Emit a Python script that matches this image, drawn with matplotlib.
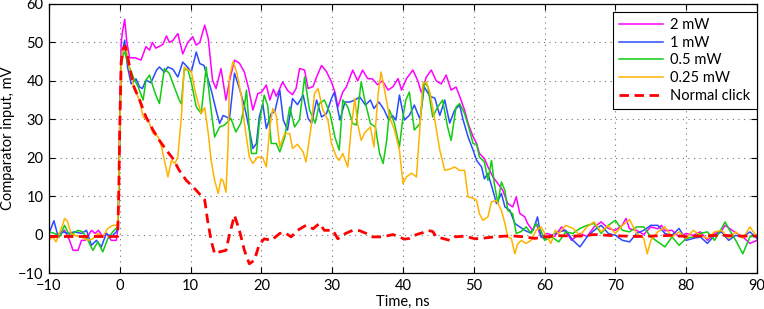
"""Comparator input vs time for several optical powers"""
import matplotlib
matplotlib.use("Agg")
import matplotlib.pyplot as plt

# Datos (tiempo en ns, tension en mV)
t_2mw = [-10, -9.2, -8.5, -7.8, -7.1, -6.6, -5.9, -5.4, -4.9, -4.0, -3.5, -3.0,
         -2.4, -1.9, -1.2, -0.5, -0.3, -0.15, 0.0, 0.2, 0.4, 0.7, 1.0, 1.4,
         2.2, 3.0, 3.7, 4.2, 4.6, 5.1, 5.6, 6.1, 6.6, 7.0, 7.5, 8.2, 8.9, 9.6,
         10.3, 10.8, 11.3, 12.0, 12.5, 13.1, 13.6, 14.3, 15.0, 15.5, 16.2,
         16.9, 17.6, 18.2, 18.8, 19.5, 20.0, 20.7, 21.2, 21.7, 22.1, 22.6,
         23.0, 23.7, 24.4, 24.9, 25.4, 26.1, 26.6, 27.3, 27.8, 28.5, 29.2,
         29.9, 30.4, 30.8, 31.5, 32.0, 32.9, 33.6, 34.3, 35.0, 35.7, 36.4,
         37.1, 37.9, 38.6, 39.3, 39.8, 40.5, 41.4, 42.1, 42.6, 43.3, 44.0,
         44.7, 45.4, 46.1, 46.8, 47.5, 48.2, 48.7, 49.2, 49.9, 50.4, 50.8,
         51.5, 52.0, 52.7, 53.4, 54.1, 54.8, 55.5, 56.0, 56.5, 57.2, 57.6,
         58.3, 58.8, 59.5, 60.4, 61.4, 62.4, 63.3, 63.8, 65, 66, 67, 68, 69,
         70, 71, 71.5, 72, 73, 74, 75, 76, 76.5, 77, 78, 79, 80, 81, 82, 83,
         84, 85, 85.5, 86.5, 87, 88, 89, 90]
v_2mw = [-0.6, -0.6, 0.3, 1.1, -1.5, -4.1, -4.1, -1.5, -1.5, 1.1, 0.3, 1.1,
         -0.6, 0.3, -1.5, -1.5, 1.0, 10, 30, 50, 53, 56, 50, 46,
         46, 45.4, 48.9, 48, 50, 48.5, 49, 49.5, 51.7, 50, 50.5, 52.3, 47, 50,
         51.5, 49.3, 50, 54.5, 51, 40.2, 38, 43.2, 35, 40, 45.4,
         44.6, 42.3, 38, 32.4, 36.7, 37, 38.9, 35, 37.8, 36, 38,
         39.7, 37.5, 36.4, 38, 43.2, 42.8, 38, 38.5, 41, 44, 42.4,
         39.7, 37, 33.2, 37.1, 38.4, 42.8, 40, 42.8, 40.6, 40.5, 39,
         40, 37.6, 38.5, 40.6, 37.6, 40.6, 42.8, 40, 36.9, 41, 42.8,
         40, 39.2, 41.5, 37.6, 38.4, 35, 32.4, 28.9, 25.5, 23.7, 21.1,
         19.8, 17.6, 15, 13.3, 11.5, 8.1, 7.2, 9.8, 5.5, 4.6, 2.9,
         1.1, 2.9, -0.6, 0.3, -0.5, 2, 0, -1.5, 0.3, -0.5, 2, 3.3, 1.6,
         1.1, 2.5, 4.2, 1.5, 1.1, 0, 2, 1.5, 2.4, 1, 1.1, -0.6, 0.3, -0.2, 0.7, -1.5,
         0.3, 1, 2.4, 1.1, 0.5, -0.6, -2.3, -1.5]

t_1mw = [-10, -9.3, -8.7, -8.0, -7.3, -6.4, -5.4, -4.7, -4.0, -3.3, -2.6, -1.9,
         -1.2, -0.5, -0.3, -0.15, 0.0, 0.2, 0.5, 0.7, 1.1, 1.6, 2.3, 2.8, 3.2,
         3.7, 4.4, 5.2, 5.6, 6.3, 6.8, 7.5, 8.2, 8.9, 9.6, 10.1, 10.8, 11.3,
         11.9, 12.5, 13.0, 13.6, 14.1, 14.6, 15.5, 16.2, 16.9, 17.6, 18.3,
         18.8, 19.3, 19.7, 20.2, 20.7, 21.4, 21.9, 22.6, 23.1, 23.7, 24.4,
         25.1, 25.9, 26.6, 27.1, 27.8, 28.5, 29.2, 29.9, 30.3, 31.1, 31.8,
         32.5, 33.2, 33.9, 34.7, 35.4, 35.9, 36.6, 37.3, 38.0, 38.5, 39.0,
         39.5, 40.2, 40.9, 41.6, 42.4, 43.0, 43.8, 44.5, 45.2, 45.9, 46.6,
         47.3, 48.0, 48.5, 49.2, 49.9, 50.4, 51.1, 51.5, 52.0, 52.7, 53.2,
         53.9, 54.4, 55.1, 55.8, 56.5, 57.2, 57.9, 58.4, 59.0, 59.5, 60, 61,
         62, 63, 64, 65, 66, 67, 68, 69, 70, 71, 72, 73, 74, 75, 76, 77, 78,
         79, 80, 81, 82, 83, 84, 85, 86, 87, 88, 89, 90]
v_1mw = [0.3, 3.6, -0.6, 0.7, 0.3, 0.7, 0.3, 1.1, -2.8, -1.5, -3.2, 0.3,
         -0.6, 0.7, 1.5, 10, 28, 45, 49, 50.6, 43.6, 39.2, 40.5, 38.4, 38,
         40.2, 39.5, 42.8, 43.6, 42.3, 43.6, 43, 41, 44.9, 43.5, 42.3, 47.5, 44.5,
         44, 40.2, 37, 32.4, 28.9, 31, 30.2, 42, 38, 33.5, 27.4,
         22.4, 23.7, 30.6, 34, 27.6, 31.5, 32, 37.6, 29.8, 27.2, 35.4,
         33.8, 36.3, 30.2, 29, 35, 30.6, 31.5, 35.4, 37, 29.8, 34.5,
         34.5, 35, 35.8, 33.7, 35, 32.8, 34.5, 32.6, 29.8, 31, 29.8,
         36.3, 29.8, 31, 33.7, 30, 38.4, 36, 35.5, 31, 35, 29,
         32.4, 33.7, 29.8, 25.4, 22, 19.3, 17.6, 14.5, 15.9, 11.5, 8.1,
         10.7, 7.2, 6.3, 2.9, 2, 1.1, 0.5, 1.2, 4.6, -0.6, -1, -0.2,
         0.7, 1.1, -1.5, -3.2, -0.6, 1.1, 2.4, 0.3, -0.2, -1.5, -1.9, 0.3, 1.1, 2.4, 2.4, 0.3, -0.2,
         1.6, -1.5, -1, -0.6, -2.3, -0.2, 0.7, -1.5, -0.2, -0.6, 0.7, -1]

t_05mw = [-10, -9.2, -8.5, -7.8, -7.1, -5.9, -5.2, -4.5, -3.8, -3.1, -2.4, -1.7,
          -1.0, -0.5, -0.3, -0.15, 0.0, 0.2, 0.5, 0.7, 1.1, 1.9, 2.6, 3.3, 3.7,
          4.2, 4.7, 5.2, 5.6, 6.3, 7.0, 7.7, 8.4, 8.7, 9.1, 9.6, 10.1, 10.8,
          11.5, 12.2, 12.9, 13.4, 14.1, 14.8, 15.7, 16.4, 17.1, 17.6, 17.9,
          18.3, 18.6, 19.3, 19.7, 20.4, 20.9, 21.4, 22.1, 22.6, 23.3, 24.0,
          24.7, 25.4, 26.1, 26.8, 27.6, 28.2, 28.9, 29.7, 30.4, 31.0, 31.5,
          32.2, 32.9, 33.4, 33.9, 34.1, 34.6, 35.4, 36.1, 36.7, 37.2, 37.7,
          38.1, 38.8, 39.5, 40.0, 40.4, 40.9, 41.6, 42.4, 43.0, 43.5, 44.2,
          44.9, 45.6, 46.3, 46.8, 47.5, 48.0, 48.7, 49.4, 49.9, 50.4, 50.8,
          51.5, 52.0, 52.5, 52.9, 53.4, 53.9, 54.4, 54.8, 55.5, 56.0, 56.7,
          57.4, 58.1, 58.8, 59.5, 60, 61, 62, 63, 64, 65, 66, 67, 68, 69, 70,
          71, 72, 73, 74, 75, 76, 77, 78, 79, 80, 81, 82, 83, 84, 85, 85.5, 86,
          87, 88, 89, 90]
v_05mw = [0.7, 0.3, -0.6, 2.4, -0.3, 1.1, 0.7, -1.5, -4.1, -1.9, -4.5, -1.1,
          0.7, 1.6, 2, 10, 27, 44, 47, 47.5, 44.8, 41, 38.4, 35, 40.2,
          41.5, 38.4, 35.8, 34.1, 43.2, 41.9, 38.4, 35, 34, 42.8, 43, 39.7, 33.2,
          31.5, 43.6, 32.4, 25.4, 28, 28.5, 30.2, 26.7, 29, 33.5, 37.6,
          27.2, 21.1, 21.1, 28.8, 36.3, 33.5, 23.7, 23.7, 21.5, 25.3, 33.2,
          28, 30, 41, 32.4, 29, 34.1, 35, 31.5, 25.3, 22, 35,
          33.2, 28.9, 28.5, 36.7, 39.7, 35, 28.9, 28, 21.1, 18.5, 24.5,
          32.4, 28.9, 22.8, 30.6, 35, 37.1, 27.2, 28.9, 39.7, 38.5, 30.6,
          33.2, 35, 28, 24.5, 33.2, 34.1, 31.5, 27.2, 23.7, 23.5, 20.2,
          18.9, 14.1, 19.3, 13.3, 8.1, 13.7, 11.5, 6.3, 5.4, 0.3, 0.8,
          2, 0.3, 2.9, 1, -1.5, -0.6, -1.9, 0.7, 0.3, 1.6, 2.4, 2.9, 0.3, 2.4, 3.7,
          1.1, 0.7, 2, 2, -0.6, -1.9, -3.2, -0.6, -2.8, -1, -0.6, 0.3, 0.7, -1.5, 1.6, 3.3, 1.6,
          -1.5, -5, -0.6, -0.2]

t_025mw = [-10, -9.5, -9.0, -8.0, -7.8, -7.4, -6.9, -6.2, -5.5, -4.5, -3.8, -3.1,
           -2.4, -1.7, -1.0, -0.5, -0.3, -0.15, 0.0, 0.2, 0.4, 0.9, 1.4, 2.1,
           2.8, 3.3, 4.0, 4.7, 5.4, 5.9, 6.3, 6.8, 7.3, 7.8, 8.2, 8.7, 9.1,
           9.6, 10.1, 10.6, 11.1, 11.5, 12.0, 12.5, 12.9, 13.4, 13.9, 14.3,
           14.6, 15.0, 15.3, 15.5, 16.0, 16.5, 17.2, 17.6, 18.3, 18.8, 19.5,
           20.2, 20.7, 21.2, 21.6, 22.1, 22.6, 23.3, 24.0, 24.4, 25.1, 25.9,
           26.3, 27.0, 27.5, 28.0, 28.7, 29.4, 29.9, 30.6, 31.0, 31.5, 32.2,
           32.7, 33.2, 33.6, 34.1, 34.6, 35.4, 35.9, 36.5, 36.9, 37.4, 38.1,
           38.8, 39.5, 40.0, 40.5, 41.2, 41.9, 42.4, 42.8, 43.3, 43.8, 44.5,
           45.2, 45.9, 46.6, 47.3, 48.0, 48.7, 49.2, 49.9, 50.4, 50.8, 51.3,
           52.0, 52.5, 53.2, 53.9, 54.4, 54.8, 55.3, 55.8, 56.2, 56.7, 57.4,
           58.1, 58.8, 59.5, 60.2, 60.9, 61.5, 62, 63, 64, 65, 66, 67, 68, 69,
           70, 71, 72, 73, 74, 74.5, 75, 76, 77, 78, 79, 80, 81, 82, 83, 84, 85,
           86, 87, 88, 89, 90]
v_025mw = [-1.5, -0.6, -1.9, 2.9, 4.2, 3.5, 0.3, -0.3, -0.6, -1.5, -1.1, 0.3,
           -0.6, 1.6, 2.4, 2.4, 3, 12, 28, 44, 48.4, 49, 42.8, 37.6,
           35, 30.6, 29.8, 26.3, 25.5, 22.8, 19.3, 15, 19.3, 18.5, 20.2, 30.6, 43.6,
           42.8, 42.5, 37.6, 34, 31.5, 33, 26.3, 19.3, 14.1, 10.7, 14.5,
           14, 11, 23.7, 41, 45, 42.3, 35.8, 29, 20.2, 18.5, 20.2,
           20, 17.6, 28, 32.8, 31, 22.8, 26.3, 26.3, 22.4, 23.5, 21.5,
           18.9, 27.6, 36.7, 38, 32.4, 29.8, 23.7, 20.2, 19.3, 21.1, 17.6,
           28, 35.4, 28.9, 24.5, 26.5, 28, 22.8, 36.7, 42.3, 37.6, 30.6,
           27.2, 22, 13.3, 15, 16, 15, 28, 39.3, 39.7, 37, 29.8,
           22, 16.7, 17, 17.6, 16.7, 16.7, 9.8, 9.5, 8.9, 5.4, 3.7,
           4.6, 8.5, 8.9, 6.3, 2.9, -0.6, -1, -5, -2.5, -1.5, -2.3,
           -1.5, 1.1, 2, -0.2, -2.3, 1.1, 0.3, 2.4, 1.6, -0.2, 2, 3.3, 0.7, 2.4,
           0.3, 2.4, 3.9, 0.3, -1, -5, -1.5, 0.7, 2, -0.6, 0.7, -1, 1.1, -0.2, -1, 0.7, 1.1,
           -1, 0.7, -1, 2, -0.6]

t_normal = [-10, -0.3, -0.15, 0.0, 0.2, 0.5, 0.8, 1.4, 1.9, 2.8, 3.7, 4.7, 5.6,
            6.6, 7.5, 8.4, 9.4, 10.3, 11.2, 12.0, 12.4, 12.9, 13.4, 14.1, 15.0,
            15.5, 16.2, 16.9, 17.6, 18.3, 19.0, 19.7, 20.4, 21.4, 22.6, 23.3,
            24.2, 25.1, 26.3, 27.3, 28.2, 28.9, 30.1, 30.8, 31.9, 32.9, 33.9,
            34.8, 35.7, 36.7, 37.6, 38.6, 39.5, 40.2, 40.9, 41.9, 42.8, 43.5,
            44.2, 44.7, 45.6, 46.6, 47.3, 48.7, 50.2, 51.5, 52.9, 54.4, 55.8,
            57.2, 58.6, 60, 62, 65, 67, 70, 73, 75, 78, 80, 83, 85, 88, 90]
v_normal = [-0.5, -0.5, 10, 28, 45, 48.4, 49, 43.6, 38.9, 35, 30.6, 27.2, 24.5,
            21.9, 19.8, 16.7, 14.1, 12.5, 10.7, 9, 3.7, -1.5, -5, -4.5, -4.1,
            0, 5, 1.1, -4.1, -7.6, -6.7, -2.6, -1.1, -1.5, 0.3, 0.5,
            -0.6, 1.1, 2.4, 1.5, 2.9, 1.1, 1.1, -1.1, 0.3, 1.1, 1,
            0.3, -0.6, -0.6, -0.4, 0, -0.6, -1.2, -1, 0, 0.5, 1.1,
            0.8, -0.6, -1, -1.5, -0.6, -0.4, -1.1, -0.9, -0.6, -0.4, -0.4,
            -0.6, -1, -0.6, -0.3, -0.4, 0, -0.3, -0.5, -0.4, -0.2, -0.5, -0.3, -0.2, -0.4, -0.4]

SERIES = [
    (t_2mw, v_2mw, "2 mW", "#ff00ff"),
    (t_1mw, v_1mw, "1 mW", "#2a4bff"),
    (t_05mw, v_05mw, "0.5 mW", "#11cc11"),
    (t_025mw, v_025mw, "0.25 mW", "#ffb300"),
]

plt.rcParams["font.family"] = ["Lato", "DejaVu Sans"]
plt.rcParams["font.size"] = 10.5

figura = plt.figure(figsize=(7.64, 3.09), dpi=100)
eje = figura.add_axes([0.0641, 0.1165, 0.9267, 0.8706])

for t, v, etiqueta, color in SERIES:
    eje.plot(t, v, color=color, lw=1.1, label=etiqueta)
eje.plot(t_normal, v_normal, color="#ff0000", lw=2.0, dashes=(3.4, 2.0),
         label="Normal click")

eje.set_xlim(-10, 90)
eje.set_ylim(-10, 60)
eje.set_xticks(range(-10, 91, 10))
eje.set_yticks(range(-10, 61, 10))
eje.tick_params(direction="in", top=True, right=True, length=4, width=0.8,
                labelsize=10.5, pad=4)
eje.grid(True, color="0.45", linestyle=(0, (1, 4)), linewidth=0.8)
for lado in eje.spines.values():
    lado.set_linewidth(0.9)

eje.set_xlabel("Time, ns", fontsize=10.5, labelpad=2)
eje.set_ylabel("Comparator input, mV", fontsize=10.5, labelpad=2)

leyenda = eje.legend(loc="upper right", bbox_to_anchor=(1.0, 0.972),
                     borderaxespad=0, fancybox=False, framealpha=1,
                     edgecolor="black", fontsize=10.5, handlelength=3.0,
                     labelspacing=0.25, borderpad=0.45, handletextpad=0.5)
leyenda.get_frame().set_linewidth(0.8)

figura.savefig("out.png", dpi=100)
